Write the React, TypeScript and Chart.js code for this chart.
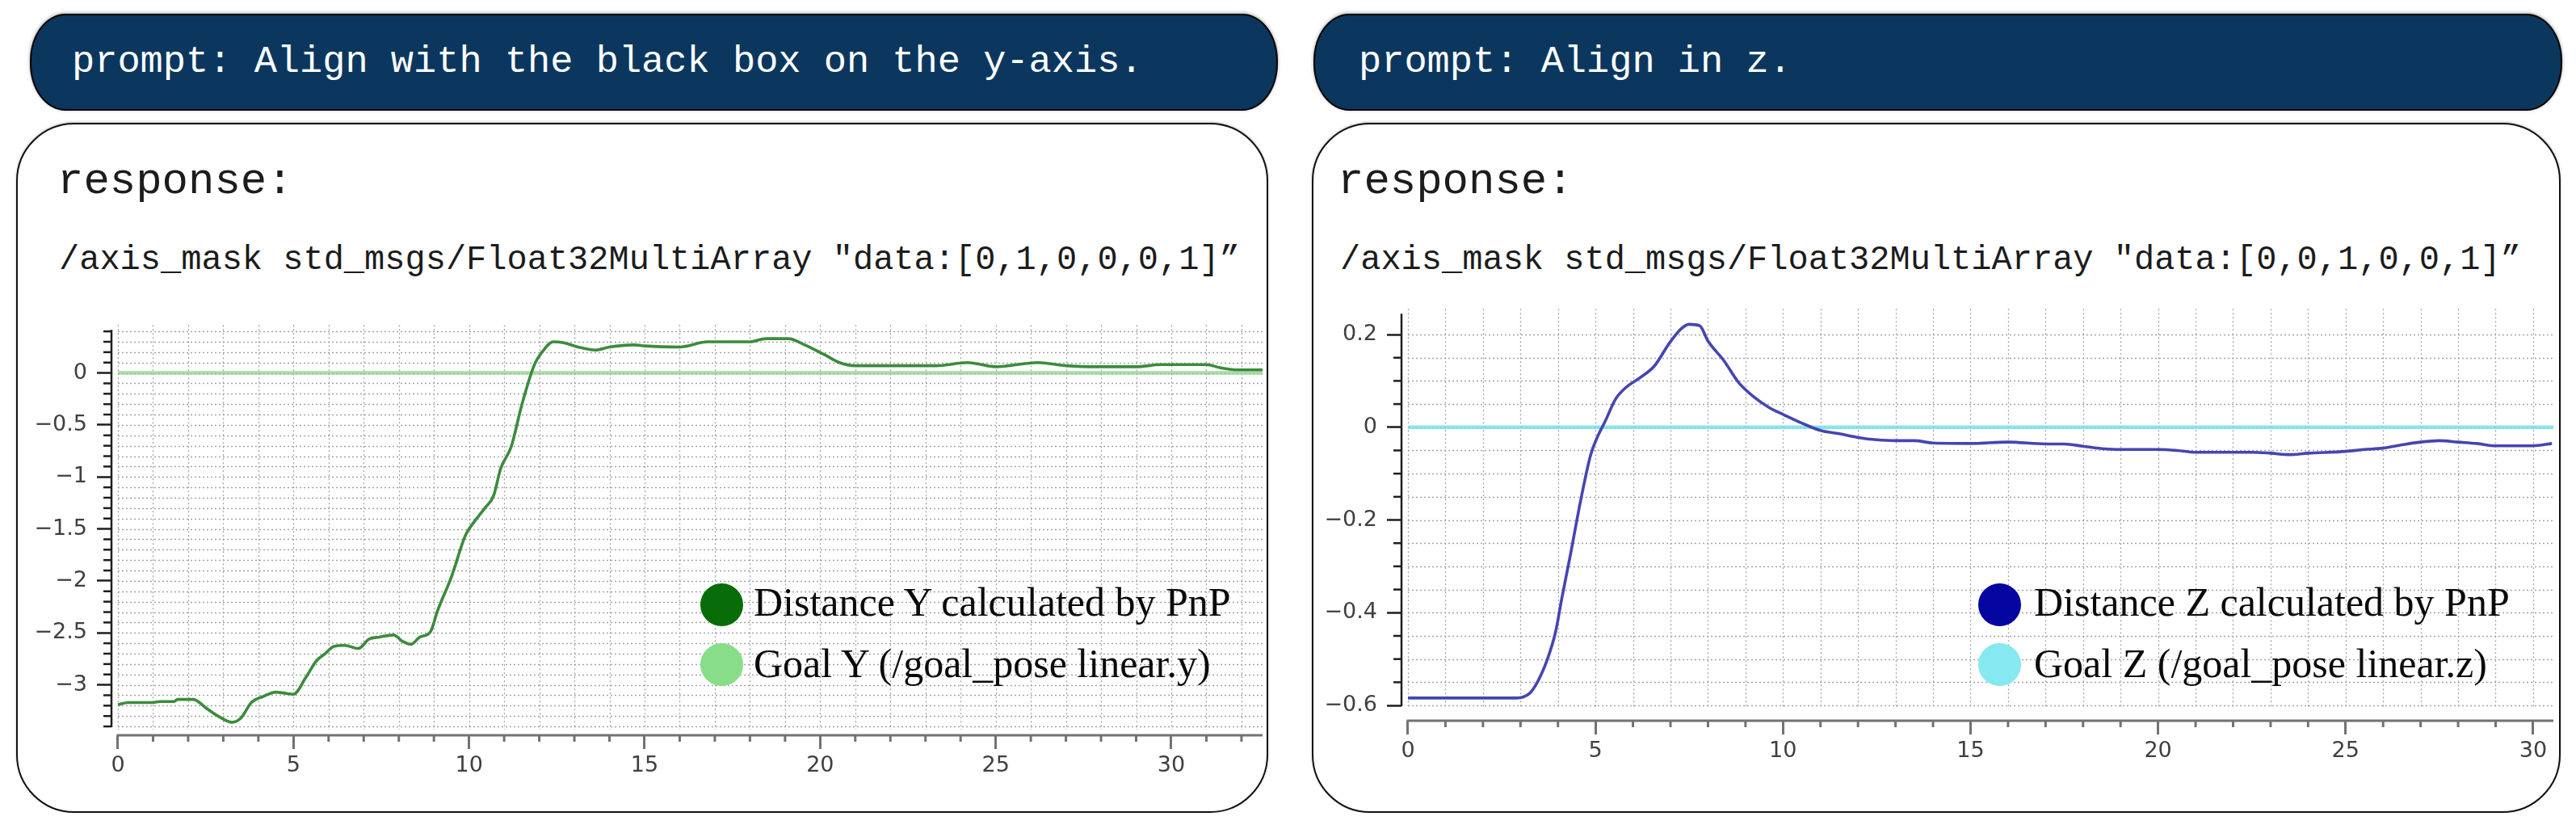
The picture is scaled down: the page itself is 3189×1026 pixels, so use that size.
import React, { useEffect, useRef } from "react";
import { Chart, registerables } from "chart.js";

Chart.register(...registerables);

// ---------------- data: left panel (Y) ----------------
const timeY = [0, 0.3, 1.0, 1.2, 1.6, 1.7, 2.15, 2.5, 2.85, 3.25, 3.5, 3.8, 4.15, 4.5, 4.75, 5.0, 5.35, 5.65, 5.9, 6.15, 6.45, 6.85, 7.15, 7.45, 7.85, 8.1, 8.35, 8.6, 8.9, 9.1, 9.5, 9.9, 10.15, 10.45, 10.7, 10.9, 11.2, 11.5, 11.85, 12.1, 12.4, 12.7, 13.1, 13.6, 14.0, 14.7, 15.0, 16.0, 16.8, 18.0, 18.45, 19.1, 19.5, 20.1, 20.55, 21.0, 22.1, 23.3, 24.2, 25.0, 26.2, 27.0, 27.9, 29.0, 29.7, 31.0, 31.4, 31.9, 32.6];
const distanceY = [-3.19, -3.17, -3.17, -3.16, -3.16, -3.14, -3.14, -3.22, -3.30, -3.36, -3.32, -3.17, -3.11, -3.07, -3.08, -3.09, -2.93, -2.77, -2.70, -2.63, -2.62, -2.65, -2.56, -2.54, -2.52, -2.58, -2.61, -2.54, -2.49, -2.29, -1.96, -1.56, -1.43, -1.30, -1.18, -0.92, -0.71, -0.31, 0.07, 0.21, 0.30, 0.29, 0.25, 0.22, 0.25, 0.27, 0.26, 0.25, 0.30, 0.30, 0.33, 0.33, 0.28, 0.18, 0.10, 0.07, 0.07, 0.07, 0.10, 0.06, 0.10, 0.07, 0.06, 0.06, 0.08, 0.08, 0.05, 0.03, 0.03];
const goalTimeY = [0, 32.6];
const goalY = [0, 0];
const xTicksY = [0, 5, 10, 15, 20, 25, 30];
const xTickLabelsY = ["0", "5", "10", "15", "20", "25", "30"];
const yTicksY = [-3, -2.5, -2, -1.5, -1, -0.5, 0];
const yTickLabelsY = ["\u22123", "\u22122.5", "\u22122", "\u22121.5", "\u22121", "\u22120.5", "0"];

// ---------------- data: right panel (Z) ----------------
const timeZ = [0, 2.9, 3.23, 3.45, 3.72, 3.94, 4.1, 4.33, 4.6, 4.87, 5.04, 5.26, 5.53, 5.8, 6.19, 6.57, 6.95, 7.28, 7.5, 7.78, 8.0, 8.43, 8.82, 9.2, 9.64, 10.02, 10.5, 11.0, 11.5, 12.0, 12.5, 13.0, 13.5, 14.0, 15.0, 16.0, 17.0, 17.5, 18.0, 18.5, 19.0, 20.0, 20.5, 21.0, 22.5, 23.0, 23.5, 24.0, 25.0, 25.5, 26.0, 26.5, 27.0, 27.5, 28.0, 28.5, 29.0, 30.0, 30.5];
const distanceZ = [-0.584, -0.584, -0.575, -0.55, -0.50, -0.44, -0.37, -0.276, -0.16, -0.06, -0.023, 0.013, 0.06, 0.085, 0.107, 0.132, 0.179, 0.212, 0.222, 0.219, 0.186, 0.143, 0.096, 0.067, 0.042, 0.027, 0.009, -0.007, -0.014, -0.022, -0.027, -0.029, -0.029, -0.034, -0.035, -0.032, -0.036, -0.036, -0.041, -0.046, -0.048, -0.048, -0.05, -0.054, -0.054, -0.056, -0.059, -0.056, -0.052, -0.048, -0.045, -0.038, -0.032, -0.029, -0.032, -0.035, -0.04, -0.04, -0.035];
const goalTimeZ = [0, 30.54];
const goalZ = [0, 0];
const xTicksZ = [0, 5, 10, 15, 20, 25, 30];
const xTickLabelsZ = ["0", "5", "10", "15", "20", "25", "30"];
const yTicksZ = [-0.6, -0.4, -0.2, 0, 0.2];
const yTickLabelsZ = ["\u22120.6", "\u22120.4", "\u22120.2", "0", "0.2"];

const zip = (xs: number[], ys: number[]) => xs.map((x, i) => ({ x, y: ys[i] }));

const range = (from: number, to: number, step: number) => {
  const out: number[] = [];
  const n = Math.round((to - from) / step);
  for (let i = 0; i <= n; i++) out.push(Math.round((from + i * step) * 1000) / 1000);
  return out;
};

const decorPlugin = {
  id: "decor",
  beforeDatasetsDraw(chart: any, _args: any, o: any) {
    const { ctx, chartArea } = chart;
    const xs = chart.scales.x;
    const ys = chart.scales.y;
    const x0 = xs.getPixelForValue(0);
    const yBot = ys.getPixelForValue(o.yBottom);
    ctx.save();
    ctx.strokeStyle = "#a4a4a4";
    ctx.lineWidth = 1.3;
    ctx.setLineDash([2, 3]);
    for (const v of o.xGrid) {
      const p = Math.round(xs.getPixelForValue(v)) + 0.5;
      ctx.beginPath();
      ctx.moveTo(p, chartArea.top - 6);
      ctx.lineTo(p, yBot + 4);
      ctx.stroke();
    }
    for (const v of o.yGrid) {
      const p = Math.round(ys.getPixelForValue(v)) + 0.5;
      ctx.beginPath();
      ctx.moveTo(x0, p);
      ctx.lineTo(chartArea.right, p);
      ctx.stroke();
    }
    ctx.restore();
  },
  afterDraw(chart: any, _args: any, o: any) {
    const { ctx, chartArea } = chart;
    const xs = chart.scales.x;
    const ys = chart.scales.y;
    const x0 = xs.getPixelForValue(0);
    const yBot = ys.getPixelForValue(o.yBottom);
    ctx.save();
    ctx.setLineDash([]);
    // y axis line + minor ticks
    ctx.strokeStyle = "#1e1e1e";
    ctx.lineWidth = 2.5;
    ctx.beginPath();
    ctx.moveTo(chartArea.left, chartArea.top);
    ctx.lineTo(chartArea.left, yBot + 1);
    ctx.stroke();
    for (const v of o.yGrid) {
      if (o.yMajor.some((m: number) => Math.abs(m - v) < 1e-6)) continue;
      const p = ys.getPixelForValue(v);
      ctx.beginPath();
      ctx.moveTo(chartArea.left - 10, p);
      ctx.lineTo(chartArea.left, p);
      ctx.stroke();
    }
    // x axis line + minor ticks
    ctx.strokeStyle = "#727272";
    ctx.lineWidth = 3;
    ctx.beginPath();
    ctx.moveTo(x0 - 1.5, chartArea.bottom);
    ctx.lineTo(chartArea.right, chartArea.bottom);
    ctx.stroke();
    for (const v of o.xGrid) {
      if (o.xMajor.some((m: number) => Math.abs(m - v) < 1e-6)) continue;
      const p = xs.getPixelForValue(v);
      ctx.beginPath();
      ctx.moveTo(p, chartArea.bottom);
      ctx.lineTo(p, chartArea.bottom + 8);
      ctx.stroke();
    }
    ctx.restore();
  },
};

type Spec = {
  times: number[];
  values: number[];
  goalTimes: number[];
  goalValues: number[];
  lineColor: string;
  goalColor: string;
  xMin: number;
  xMax: number;
  yMin: number;
  yMax: number;
  xTicks: number[];
  xTickLabels: string[];
  yTicks: number[];
  yTickLabels: string[];
  yMinorStep: number;
  yBottom: number;
  yGridTop: number;
  xGridMax: number;
  seriesLabel: string;
  goalLabel: string;
};

function PlotCanvas(props: { spec: Spec; left: number; top: number; width: number; height: number }) {
  const ref = useRef<HTMLCanvasElement>(null);
  const { spec } = props;
  useEffect(() => {
    if (!ref.current) return;
    const tickFont = { family: "DejaVu Sans", size: 27 };
    const chart = new Chart(ref.current, {
      type: "line",
      data: {
        datasets: [
          {
            label: spec.seriesLabel,
            data: zip(spec.times, spec.values),
            borderColor: spec.lineColor,
            borderWidth: 3.6,
            pointRadius: 0,
            cubicInterpolationMode: "monotone",
            fill: false,
          },
          {
            label: spec.goalLabel,
            data: zip(spec.goalTimes, spec.goalValues),
            borderColor: spec.goalColor,
            borderWidth: 4.5,
            pointRadius: 0,
            fill: false,
          },
        ],
      },
      options: {
        animation: false,
        responsive: false,
        maintainAspectRatio: false,
        devicePixelRatio: 1,
        layout: { padding: { top: 23, right: 10, left: 0, bottom: 0 } },
        plugins: {
          legend: { display: false },
          tooltip: { enabled: false },
          decor: {
            xGrid: range(0, spec.xGridMax, 1),
            yGrid: range(spec.yBottom, spec.yGridTop, spec.yMinorStep),
            xMajor: spec.xTicks,
            yMajor: spec.yTicks,
            yBottom: spec.yBottom,
          },
        } as any,
        scales: {
          x: {
            type: "linear",
            min: spec.xMin,
            max: spec.xMax,
            afterBuildTicks: (axis: any) => {
              axis.ticks = spec.xTicks.map((v) => ({ value: v }));
            },
            afterFit: (axis: any) => {
              axis.height = 70;
            },
            ticks: {
              autoSkip: false,
              maxRotation: 0,
              padding: 5,
              color: "#404040",
              font: tickFont,
              callback: (_v: any, i: number) => spec.xTickLabels[i],
            },
            grid: {
              display: true,
              drawOnChartArea: false,
              drawTicks: true,
              tickLength: 17,
              tickWidth: 3,
              tickColor: "#727272",
            },
            border: { display: false },
          },
          y: {
            type: "linear",
            min: spec.yMin,
            max: spec.yMax,
            afterBuildTicks: (axis: any) => {
              axis.ticks = spec.yTicks.map((v) => ({ value: v }));
            },
            afterFit: (axis: any) => {
              axis.width = 108;
            },
            ticks: {
              autoSkip: false,
              padding: 12,
              color: "#404040",
              font: tickFont,
              callback: (_v: any, i: number) => spec.yTickLabels[i],
            },
            grid: {
              display: true,
              drawOnChartArea: false,
              drawTicks: true,
              tickLength: 18,
              tickWidth: 2.5,
              tickColor: "#1e1e1e",
            },
            border: { display: false },
          },
        },
      },
      plugins: [decorPlugin as any],
    });
    return () => chart.destroy();
  }, []);
  return (
    <canvas
      ref={ref}
      width={props.width}
      height={props.height}
      style={{ position: "absolute", left: props.left, top: props.top, width: props.width, height: props.height }}
    />
  );
}

const MONO = '"Liberation Mono", "Courier New", monospace';
const SERIF = '"Liberation Serif", "Times New Roman", serif';

function TextAt(props: { x: number; baseline: number; size: number; family: string; color: string; children: React.ReactNode }) {
  const asc = props.family === SERIF ? 0.8375 : 0.766;
  return (
    <div
      style={{
        position: "absolute",
        left: props.x,
        top: props.baseline - asc * props.size,
        fontFamily: props.family,
        fontSize: props.size,
        lineHeight: props.size + "px",
        color: props.color,
        whiteSpace: "pre",
      }}
    >
      {props.children}
    </div>
  );
}

function Panel(p: {
  headerX: number;
  headerW: number;
  promptX: number;
  prompt: string;
  boxX: number;
  boxW: number;
  respX: number;
  cmdX: number;
  command: string;
  canvas: { left: number; top: number; width: number; height: number };
  spec: Spec;
  legendCx: number;
  legendTx: number;
  darkColor: string;
  lightColor: string;
}) {
  return (
    <>
      <div
        style={{
          position: "absolute",
          left: p.headerX,
          top: 17,
          width: p.headerW,
          height: 120,
          boxSizing: "border-box",
          background: "#0b375f",
          border: "2.5px solid #050505",
          borderRadius: "44px / 58px",
          boxShadow: "0 -1px 4px rgba(0,0,0,0.35)",
        }}
      />
      <TextAt x={p.promptX} baseline={89} size={47} family={MONO} color="#ffffff">
        {p.prompt}
      </TextAt>
      <div
        style={{
          position: "absolute",
          left: p.boxX,
          top: 152,
          width: p.boxW,
          height: 854,
          boxSizing: "border-box",
          background: "#ffffff",
          border: "2.5px solid #111111",
          borderRadius: 72,
          boxShadow: "0 -1px 3px rgba(0,0,0,0.25)",
        }}
      />
      <TextAt x={p.respX} baseline={239} size={54} family={MONO} color="#1c1c1c">
        response:
      </TextAt>
      <TextAt x={p.cmdX} baseline={333} size={42} family={MONO} color="#1c1c1c">
        {p.command}
      </TextAt>
      <PlotCanvas spec={p.spec} {...p.canvas} />
      <div
        style={{
          position: "absolute",
          left: p.legendCx - 26.5,
          top: 748 - 26.5,
          width: 53,
          height: 53,
          borderRadius: "50%",
          background: p.darkColor,
        }}
      />
      <div
        style={{
          position: "absolute",
          left: p.legendCx - 26.5,
          top: 822 - 26.5,
          width: 53,
          height: 53,
          borderRadius: "50%",
          background: p.lightColor,
        }}
      />
      <TextAt x={p.legendTx} baseline={762} size={50} family={SERIF} color="#0a0a0a">
        {p.spec.seriesLabel}
      </TextAt>
      <TextAt x={p.legendTx} baseline={838} size={50} family={SERIF} color="#0a0a0a">
        {p.spec.goalLabel}
      </TextAt>
    </>
  );
}

const specY: Spec = {
  times: timeY,
  values: distanceY,
  goalTimes: goalTimeY,
  goalValues: goalY,
  lineColor: "#3b8b3b",
  goalColor: "rgba(140, 210, 140, 0.75)",
  xMin: -0.184,
  xMax: 32.6,
  yMin: -3.485,
  yMax: 0.415,
  xTicks: xTicksY,
  xTickLabels: xTickLabelsY,
  yTicks: yTicksY,
  yTickLabels: yTickLabelsY,
  yMinorStep: 0.1,
  yBottom: -3.4,
  yGridTop: 0.4,
  xGridMax: 32,
  seriesLabel: "Distance Y calculated by PnP",
  goalLabel: "Goal Y (/goal_pose linear.y)",
};

const specZ: Spec = {
  times: timeZ,
  values: distanceZ,
  goalTimes: goalTimeZ,
  goalValues: goalZ,
  lineColor: "#4545b2",
  goalColor: "rgba(120, 225, 235, 0.85)",
  xMin: -0.172,
  xMax: 30.54,
  yMin: -0.633,
  yMax: 0.245,
  xTicks: xTicksZ,
  xTickLabels: xTickLabelsZ,
  yTicks: yTicksZ,
  yTickLabels: yTickLabelsZ,
  yMinorStep: 0.05,
  yBottom: -0.6,
  yGridTop: 0.2,
  xGridMax: 30,
  seriesLabel: "Distance Z calculated by PnP",
  goalLabel: "Goal Z (/goal_pose linear.z)",
};

export default function App() {
  return (
    <div style={{ position: "absolute", left: 0, top: 0, width: 3189, height: 1026, background: "#ffffff", overflow: "hidden" }}>
      <Panel
        headerX={37}
        headerW={1545}
        promptX={89}
        prompt="prompt: Align with the black box on the y-axis."
        boxX={20}
        boxW={1550}
        respX={71}
        cmdX={73}
        command={'/axis_mask std_msgs/Float32MultiArray "data:[0,1,0,0,0,1]\u201d'}
        canvas={{ left: 30, top: 380, width: 1543, height: 600 }}
        spec={specY}
        legendCx={893}
        legendTx={933}
        darkColor="#086d08"
        lightColor="#88de88"
      />
      <Panel
        headerX={1626}
        headerW={1546}
        promptX={1682}
        prompt="prompt: Align in z."
        boxX={1624}
        boxW={1546}
        respX={1656}
        cmdX={1659}
        command={'/axis_mask std_msgs/Float32MultiArray "data:[0,0,1,0,0,1]\u201d'}
        canvas={{ left: 1627, top: 360, width: 1544, height: 602 }}
        spec={specZ}
        legendCx={2475}
        legendTx={2518}
        darkColor="#0505a2"
        lightColor="#86e8f0"
      />
    </div>
  );
}
